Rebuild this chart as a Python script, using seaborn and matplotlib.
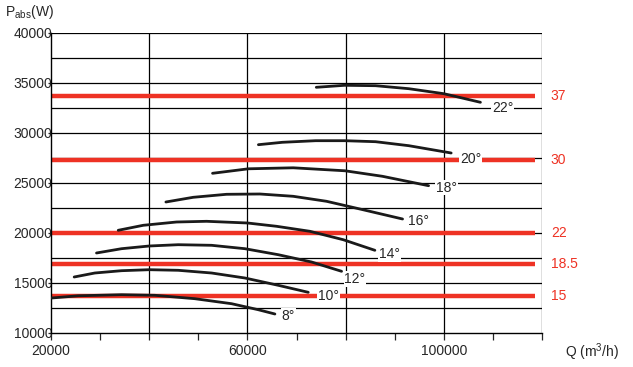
import numpy as np
import pandas as pd
import matplotlib
matplotlib.use("Agg")
import matplotlib.pyplot as plt
import seaborn as sns

# Courbes de puissance absorbée
q_8 = [20100, 25540, 34360, 41150, 49300, 56770, 62200, 65600]
p_8 = [13500, 13720, 13830, 13770, 13430, 12930, 12330, 11900]
q_10 = [24720, 28930, 34360, 40000, 45910, 52700, 59490, 66280, 72390]
p_10 = [15600, 16000, 16230, 16330, 16270, 16000, 15500, 14770, 14070]
q_12 = [29270, 34360, 40000, 45910, 52700, 59490, 66280, 73070, 79180]
p_12 = [18000, 18430, 18700, 18830, 18770, 18430, 17830, 17100, 16170]
q_14 = [33690, 38780, 45570, 51680, 60030, 65940, 72730, 79510, 85960]
p_14 = [20270, 20770, 21100, 21170, 21000, 20670, 20170, 19330, 18270]
q_16 = [43400, 48960, 55750, 62540, 69330, 76120, 82910, 91600]
p_16 = [23100, 23570, 23870, 23900, 23670, 23170, 22400, 21400]
q_18 = [52900, 60200, 69330, 79900, 87500, 96900]
p_18 = [25970, 26420, 26520, 26220, 25670, 24730]
q_20 = [62240, 67120, 73900, 79800, 86100, 92880, 101500]
p_20 = [28830, 29070, 29230, 29230, 29130, 28730, 28000]
q_22 = [74030, 79800, 86100, 92880, 100000, 107460]
p_22 = [34570, 34770, 34730, 34430, 33930, 33070]

angles = ["8°", "10°", "12°", "14°", "16°", "18°", "20°", "22°"]
label_q = [68300, 76500, 81900, 89000, 94800, 100500, 105500, 112000]
label_p = [11700, 13670, 15430, 17930, 21230, 24550, 27400, 32500]

# Puissances moteur (kW)
motor_kw = ["37", "30", "22", "18.5", "15"]
motor_p = [33670, 27270, 20030, 16870, 13670]
motor_q_end = 118600

red = "#ee3224"

frames = []
for ang, q, p in zip(angles, [q_8, q_10, q_12, q_14, q_16, q_18, q_20, q_22],
                     [p_8, p_10, p_12, p_14, p_16, p_18, p_20, p_22]):
    frames.append(pd.DataFrame({"Q": q, "P": p, "angle": ang}))
df = pd.concat(frames, ignore_index=True)

sns.set_style("white")
plt.rcParams["font.family"] = ["Liberation Sans", "DejaVu Sans"]
plt.rcParams["mathtext.fontset"] = "custom"
plt.rcParams["mathtext.rm"] = "Liberation Sans"

fig = plt.figure(figsize=(6.33, 3.67), dpi=100)
ax = fig.add_axes([51 / 633, 1 - 333 / 367, 491 / 633, 300 / 367])

ax.set_xlim(20000, 120000)
ax.set_ylim(10000, 40000)

# grille
for y in np.arange(12500, 40001, 2500):
    ax.axhline(y, color="black", lw=0.9, zorder=1)
for x in np.arange(40000, 120001, 20000):
    ax.axvline(x, color="black", lw=0.9, zorder=1)

# lignes rouges
ax.hlines(motor_p, 20000, motor_q_end, color=red, lw=3.2, zorder=2)
for kw, p in zip(motor_kw, motor_p):
    ax.text(121800, p, kw, color=red, fontsize=10, va="center", ha="left",
            clip_on=False)

sns.lineplot(data=df, x="Q", y="P", units="angle", estimator=None,
             color="#1a1a1a", lw=2, ax=ax, zorder=3, sort=False)

for lab, q, p in zip(angles, label_q, label_p):
    ax.text(q, p, lab, fontsize=10, ha="center", va="center", zorder=4,
            bbox=dict(facecolor="white", edgecolor="none", pad=0.6))

ax.set_xticks(np.arange(20000, 120001, 10000))
ax.set_xticklabels(["20000" if v == 20000 else "60000" if v == 60000
                    else "100000" if v == 100000 else ""
                    for v in np.arange(20000, 120001, 10000)])
ax.set_yticks(np.arange(10000, 40001, 5000))
ax.set_yticklabels([str(v) for v in np.arange(10000, 40001, 5000)])
ax.tick_params(axis="x", direction="out", length=5, width=0.9, pad=3,
               labelsize=10, bottom=True)
ax.tick_params(axis="y", direction="out", length=2, width=0.9, pad=-3,
               labelsize=10, left=True)
for lbl in ax.get_yticklabels():
    lbl.set_zorder(5)

ax.set_xlabel("")
ax.set_ylabel("")
for s in ["left", "bottom"]:
    ax.spines[s].set_color("black")
    ax.spines[s].set_linewidth(1.0)
for s in ["top", "right"]:
    ax.spines[s].set_visible(False)

fig.text(5 / 633, 1 - 12 / 367, r"P$_{\mathrm{abs}}$(W)", fontsize=10,
         va="center", ha="left")
fig.text(592 / 633, 1 - 352 / 367, r"Q (m$^{3}$/h)", fontsize=10,
         va="center", ha="center")

fig.savefig("out.png", dpi=100, facecolor="white")
